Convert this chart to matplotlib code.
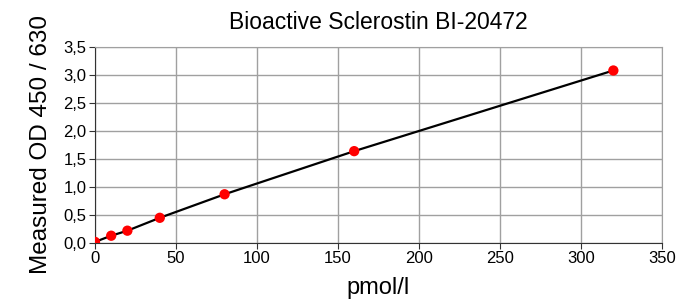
import matplotlib
matplotlib.use("Agg")
import matplotlib.pyplot as plt
from matplotlib.ticker import FuncFormatter, MultipleLocator

plt.rcParams['font.family'] = ['Liberation Sans', 'DejaVu Sans']

conc = [0, 10, 20, 40, 80, 160, 320]
od = [0.02, 0.13, 0.22, 0.45, 0.87, 1.64, 3.08]

fig = plt.figure(figsize=(6.79, 3.03), dpi=100)
ax = fig.add_axes([0.1399, 0.198, 0.835, 0.647])

ax.plot(conc, od, color='black', lw=1.6, zorder=3)
ax.scatter(conc, od, color='#ff0000', s=55, zorder=4, edgecolors='none')

ax.set_xlim(0, 350)
ax.set_ylim(0, 3.5)
ax.xaxis.set_major_locator(MultipleLocator(50))
ax.yaxis.set_major_locator(MultipleLocator(0.5))
ax.yaxis.set_major_formatter(FuncFormatter(lambda v, p: f"{v:.1f}".replace('.', ',')))
ax.grid(True, color='#a0a0a0', lw=1)
ax.set_axisbelow(True)
for s in ['top', 'right']:
    ax.spines[s].set_color('#a0a0a0')
for s in ['left', 'bottom']:
    ax.spines[s].set_color('#333333')
ax.tick_params(direction='out', length=4, labelsize=12, colors='#333333', labelcolor='black', pad=2)

ax.set_title('Bioactive Sclerostin BI-20472', fontsize=16.5, pad=13)
ax.set_xlabel('pmol/l', fontsize=17, labelpad=8)
ax.set_ylabel('Measured OD 450 / 630', fontsize=17.5, labelpad=8)

fig.savefig('out.png', dpi=100)
